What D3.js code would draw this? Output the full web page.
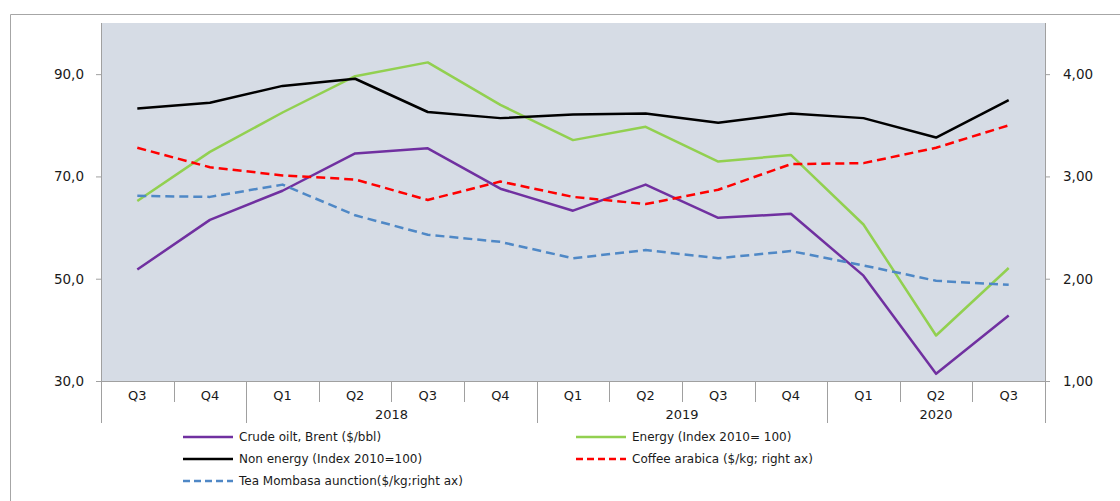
<!DOCTYPE html>
<html>
<head>
<meta charset="utf-8">
<script src="https://cdn.jsdelivr.net/npm/d3@7"></script>
<style>
  html, body { margin: 0; padding: 0; background: #ffffff; }
  svg { display: block; font-family: "DejaVu Sans", Verdana, sans-serif; }
</style>
</head>
<body>
<svg id="chart" width="1120" height="501"></svg>
<script>
// Quarterly commodity prices, 2017 Q3 – 2020 Q3
const periods = ["2017Q3","2017Q4","2018Q1","2018Q2","2018Q3","2018Q4","2019Q1","2019Q2","2019Q3","2019Q4","2020Q1","2020Q2","2020Q3"];
const quarterLabels = ["Q3","Q4","Q1","Q2","Q3","Q4","Q1","Q2","Q3","Q4","Q1","Q2","Q3"];
const yearLabels = ["", "2018", "2019", "2020"];
const yearSpans = [2, 4, 4, 3];

// Left axis series
const crudeOil = [51.8, 61.5, 67.2, 74.5, 75.5, 67.6, 63.3, 68.4, 61.9, 62.7, 50.6, 31.4, 42.8];
const energy   = [65.2, 74.8, 82.5, 89.6, 92.3, 84.0, 77.1, 79.7, 72.9, 74.2, 60.6, 38.9, 52.1];
const nonEnergy= [83.3, 84.4, 87.7, 89.1, 82.6, 81.4, 82.1, 82.3, 80.5, 82.3, 81.4, 77.6, 84.9];
// Right axis series ($/kg)
const coffee   = [3.28, 3.09, 3.01, 2.97, 2.77, 2.95, 2.80, 2.73, 2.87, 3.12, 3.13, 3.28, 3.50];
const tea      = [2.81, 2.80, 2.92, 2.62, 2.43, 2.36, 2.20, 2.28, 2.20, 2.27, 2.13, 1.98, 1.94];

const leftTicks = [30, 50, 70, 90];
const rightTicks = [1, 2, 3, 4];

const seriesNames = [
  "Crude oilt, Brent ($/bbl)",
  "Energy (Index 2010= 100)",
  "Non energy (Index 2010=100)",
  "Coffee arabica ($/kg; right ax)",
  "Tea Mombasa aunction($/kg;right ax)"
];

const series = [
  { name: seriesNames[0], values: crudeOil,  axis: "left",  color: "#7030a0", dash: null },
  { name: seriesNames[1], values: energy,    axis: "left",  color: "#92d050", dash: null },
  { name: seriesNames[2], values: nonEnergy, axis: "left",  color: "#000000", dash: null },
  { name: seriesNames[3], values: coffee,    axis: "right", color: "#ff0000", dash: "9,5" },
  { name: seriesNames[4], values: tea,       axis: "right", color: "#4f88c6", dash: "9,5" }
];

const FONT = '"DejaVu Sans", Verdana, sans-serif';
const svg = d3.select("#chart");
const plot = { left: 101, right: 1045, top: 23, bottom: 381 };

const locale = d3.formatLocale({ decimal: ",", thousands: ".", grouping: [3], currency: ["", ""] });
const fmtLeft = locale.format(".1f");
const fmtRight = locale.format(".2f");

const x = d3.scaleBand().domain(periods).range([plot.left, plot.right]).padding(0);
const yL = d3.scaleLinear().domain([30, 100]).range([plot.bottom, plot.top]);
const yR = d3.scaleLinear().domain([1, 4.5]).range([plot.bottom, plot.top]);

// Outer frame
svg.append("path")
  .attr("d", "M10.5,501 L10.5,14.5 L1120,14.5")
  .attr("fill", "none").attr("stroke", "#a6a6a6").attr("stroke-width", 1);

// Plot area background
svg.append("rect")
  .attr("x", plot.left).attr("y", plot.top)
  .attr("width", plot.right - plot.left).attr("height", plot.bottom - plot.top)
  .attr("fill", "#d6dce5");

// Left value axis
const leftAxis = d3.axisLeft(yL).tickValues(leftTicks).tickFormat(fmtLeft).tickSize(5).tickPadding(12);
const gL = svg.append("g").attr("transform", `translate(${plot.left},0)`).call(leftAxis);
// Right value axis
const rightAxis = d3.axisRight(yR).tickValues(rightTicks).tickFormat(fmtRight).tickSize(5).tickPadding(13);
const gR = svg.append("g").attr("transform", `translate(${plot.right},0)`).call(rightAxis);

[gL, gR].forEach(g => {
  g.attr("font-family", FONT).attr("font-size", 13.5);
  g.select(".domain").attr("stroke", "#a0a0a0").attr("d", `M0.5,${plot.top}V${plot.bottom}`);
  g.selectAll(".tick line").attr("stroke", "#a0a0a0");
  g.selectAll(".tick text").attr("fill", "#1a1a1a");
});

// Category axis: quarter row with separators, year row with group separators
const catAxis = svg.append("g").attr("font-family", FONT).attr("font-size", 13);
catAxis.append("line")
  .attr("x1", plot.left).attr("x2", plot.right)
  .attr("y1", plot.bottom + 0.5).attr("y2", plot.bottom + 0.5)
  .attr("stroke", "#a0a0a0");

const bw = x.bandwidth();
const boundaries = periods.map(p => x(p)).concat([plot.right]);
const yearStarts = [0];
yearSpans.reduce((acc, s) => { acc += s; yearStarts.push(acc); return acc; }, 0);
boundaries.forEach((bx, i) => {
  const isYear = yearStarts.includes(i);
  catAxis.append("line")
    .attr("x1", Math.round(bx) + 0.5).attr("x2", Math.round(bx) + 0.5)
    .attr("y1", plot.bottom).attr("y2", isYear ? 423 : 402)
    .attr("stroke", "#a0a0a0");
});

catAxis.selectAll("text.q")
  .data(periods)
  .join("text")
  .attr("class", "q")
  .attr("x", d => x(d) + bw / 2)
  .attr("y", 395)
  .attr("dy", "0.35em")
  .attr("text-anchor", "middle")
  .attr("fill", "#1a1a1a")
  .text((d, i) => quarterLabels[i]);

yearLabels.forEach((label, i) => {
  if (!label) return;
  const a = boundaries[yearStarts[i]], b = boundaries[yearStarts[i + 1]];
  catAxis.append("text")
    .attr("x", (a + b) / 2)
    .attr("y", 414)
    .attr("dy", "0.35em")
    .attr("text-anchor", "middle")
    .attr("fill", "#1a1a1a")
    .text(label);
});

// Series lines
series.forEach(s => {
  const yScale = s.axis === "left" ? yL : yR;
  const line = d3.line()
    .x((d, i) => x(periods[i]) + bw / 2)
    .y(d => yScale(d));
  svg.append("path")
    .datum(s.values)
    .attr("d", line)
    .attr("fill", "none")
    .attr("stroke", s.color)
    .attr("stroke-width", 2.5)
    .attr("stroke-linejoin", "round")
    .attr("stroke-dasharray", s.dash);
});

// Legend
const legendPos = [
  { x: 183, y: 437 }, { x: 576, y: 437 },
  { x: 183, y: 459 }, { x: 576, y: 459 },
  { x: 183, y: 481 }
];
series.forEach((s, i) => {
  const p = legendPos[i];
  const g = svg.append("g").attr("transform", `translate(${p.x},${p.y})`);
  g.append("line")
    .attr("x1", 0).attr("x2", 50).attr("y1", 0).attr("y2", 0)
    .attr("stroke", s.color).attr("stroke-width", 2.5)
    .attr("stroke-dasharray", s.dash ? "7,4" : null);
  g.append("text")
    .attr("x", 56).attr("y", 0).attr("dy", "0.35em")
    .attr("font-family", FONT)
    .attr("font-size", 12)
    .attr("fill", "#1a1a1a")
    .text(s.name);
});
</script>
</body>
</html>
